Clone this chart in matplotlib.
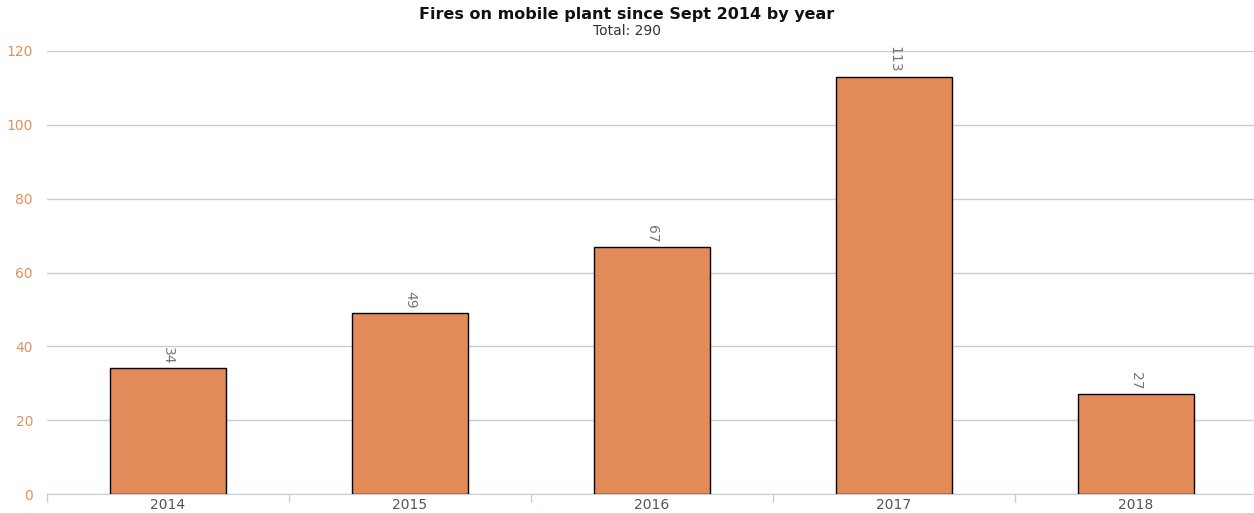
import matplotlib.pyplot as plt
import numpy as np

years = ['2014', '2015', '2016', '2017', '2018']
fires = [34, 49, 67, 113, 27]
total = 290

fig = plt.figure(figsize=(12.54, 5.13), dpi=100)
ax = fig.add_axes([47 / 1254, 19 / 513, 1210 / 1254, 443 / 513])

x = np.arange(len(years))
bars = ax.bar(x, fires, width=0.48, color='#E28A58', edgecolor='black', linewidth=1, zorder=3)

for rect, v in zip(bars, fires):
    ax.text(rect.get_x() + rect.get_width() / 2, v + 1.2, str(v), rotation=270,
            ha='center', va='bottom', fontsize=10, color='#777777')

ax.set_xlim(-0.5, len(years) - 0.5)
ax.set_ylim(0, 120)
ax.set_yticks(range(0, 121, 20))
ax.yaxis.grid(True, color='#cccccc', linewidth=1, zorder=0)
ax.tick_params(axis='y', length=0, labelcolor='#E0915E', labelsize=10, pad=10)

ax.set_xticks(x)
ax.set_xticklabels(years)
ax.set_xticks(np.arange(-0.5, len(years)), minor=True)
ax.tick_params(axis='x', which='major', length=0, labelcolor='#555555', labelsize=10, pad=3)
ax.tick_params(axis='x', which='minor', length=6, color='#c0d0e0', width=1)

for s in ['top', 'right', 'left']:
    ax.spines[s].set_visible(False)
ax.spines['bottom'].set_color('#c0d0e0')

fig.text(0.5, 1 - 15 / 513, 'Fires on mobile plant since Sept 2014 by year',
         ha='center', va='center', fontsize=11.5, fontweight='bold', color='#111111')
fig.text(0.5, 1 - 31 / 513, 'Total: ' + str(total), ha='center', va='center',
         fontsize=10, color='#333333')

fig.savefig('out.png', dpi=100)
